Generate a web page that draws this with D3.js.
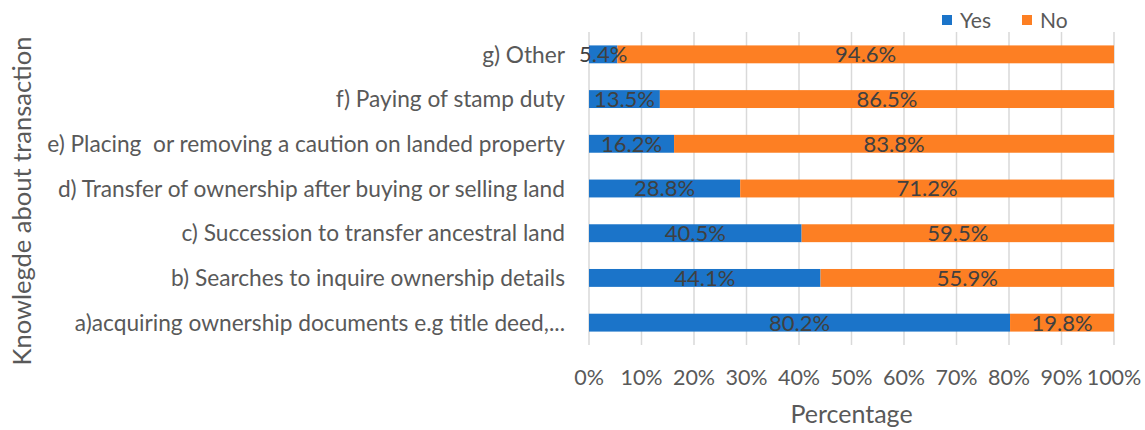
<!DOCTYPE html>
<html>
<head>
<meta charset="utf-8">
<script src="https://cdn.jsdelivr.net/npm/d3@7"></script>
<style>
  body { margin: 0; background: #fff; }
  text { font-family: Lato, "Open Sans", sans-serif; white-space: pre; }
</style>
</head>
<body>
<div class="chart"></div>
<script>
// categories top to bottom
var categories = [
    "g) Other",
    "f) Paying of stamp duty",
    "e) Placing  or removing a caution on landed property",
    "d) Transfer of ownership after buying or selling land",
    "c) Succession to transfer ancestral land",
    "b) Searches to inquire ownership details",
    "a)acquiring ownership documents e.g title deed,..."
];
var yesValues = [5.4, 13.5, 16.2, 28.8, 40.5, 44.1, 80.2];
var noValues = [94.6, 86.5, 83.8, 71.2, 59.5, 55.9, 19.8];
var seriesNames = ["Yes", "No"];
var tickValues = [0, 10, 20, 30, 40, 50, 60, 70, 80, 90, 100];

var colors = { Yes: "#1b74c9", No: "#fd7f23" };

var margin = { top: 32, right: 31, bottom: 85, left: 589 },
    width = 1145 - margin.left - margin.right,
    height = 430 - margin.top - margin.bottom;

var svg = d3.select(".chart")
    .append("svg")
    .attr("width", 1145)
    .attr("height", 430);

var g = svg.append("g")
    .attr("transform", "translate(" + margin.left + "," + margin.top + ")");

var rows = categories.map(function(c, i) {
    return { cat: c, Yes: yesValues[i], No: noValues[i] };
});

var stacked = d3.stack().keys(seriesNames)(rows);

var x = d3.scaleLinear().domain([0, 100]).range([0, width]);
var y = d3.scaleBand().domain(categories).range([0, height]).paddingInner(0.6).paddingOuter(0.3);

// gridlines
g.append("g")
    .selectAll("line")
    .data(tickValues)
    .enter().append("line")
    .attr("x1", function(d) { return x(d); })
    .attr("x2", function(d) { return x(d); })
    .attr("y1", 0)
    .attr("y2", height)
    .attr("stroke", "#d9d9d9")
    .attr("stroke-width", 1.5);

// bars
g.selectAll(".layer")
    .data(stacked)
    .enter().append("g")
    .attr("class", "layer")
    .attr("fill", function(d) { return colors[d.key]; })
    .selectAll("rect")
    .data(function(d) { return d; })
    .enter().append("rect")
    .attr("x", function(d) { return x(d[0]); })
    .attr("width", function(d) { return x(d[1]) - x(d[0]); })
    .attr("y", function(d) { return y(d.data.cat); })
    .attr("height", y.bandwidth());

// data labels, drawn above all bars
g.selectAll(".labels")
    .data(stacked)
    .enter().append("g")
    .attr("class", "labels")
    .selectAll("text")
    .data(function(d) { return d; })
    .enter().append("text")
    .attr("x", function(d) { return x((d[0] + d[1]) / 2); })
    .attr("y", function(d) { return y(d.data.cat) + y.bandwidth() / 2; })
    .attr("dy", "0.36em")
    .attr("text-anchor", "middle")
    .attr("fill", "#404040")
    .style("font-size", "22px")
    .text(function(d) { return (d[1] - d[0]).toFixed(1) + "%"; });

// category labels
g.append("g")
    .selectAll("text")
    .data(categories)
    .enter().append("text")
    .attr("x", -24)
    .attr("y", function(d) { return y(d) + y.bandwidth() / 2; })
    .attr("dy", "0.36em")
    .attr("text-anchor", "end")
    .attr("fill", "#595959")
    .style("font-size", "22.7px")
    .text(function(d) { return d; });

// x axis tick labels
g.append("g")
    .selectAll("text")
    .data(tickValues)
    .enter().append("text")
    .attr("x", function(d) { return x(d); })
    .attr("y", height + 32)
    .attr("dy", "0.36em")
    .attr("text-anchor", "middle")
    .attr("fill", "#595959")
    .style("font-size", "21.5px")
    .text(function(d) { return d + "%"; });

// axis titles
svg.append("text")
    .attr("x", margin.left + width / 2)
    .attr("y", 414)
    .attr("dy", "0.36em")
    .attr("text-anchor", "middle")
    .attr("fill", "#595959")
    .style("font-size", "25px")
    .text("Percentage");

svg.append("text")
    .attr("transform", "translate(22,201) rotate(-90)")
    .attr("dy", "0.36em")
    .attr("text-anchor", "middle")
    .attr("fill", "#595959")
    .style("font-size", "25.5px")
    .text("Knowlegde about transaction");

// legend
var legend = svg.append("g")
    .selectAll("g")
    .data(seriesNames)
    .enter().append("g")
    .attr("transform", function(d, i) { return "translate(" + (942 + i * 80) + ",15)"; });

legend.append("rect")
    .attr("width", 10)
    .attr("height", 10)
    .attr("fill", function(d) { return colors[d]; });

legend.append("text")
    .attr("x", 18)
    .attr("y", 5)
    .attr("dy", "0.36em")
    .attr("fill", "#595959")
    .style("font-size", "21px")
    .text(function(d) { return d; });
</script>
</body>
</html>
